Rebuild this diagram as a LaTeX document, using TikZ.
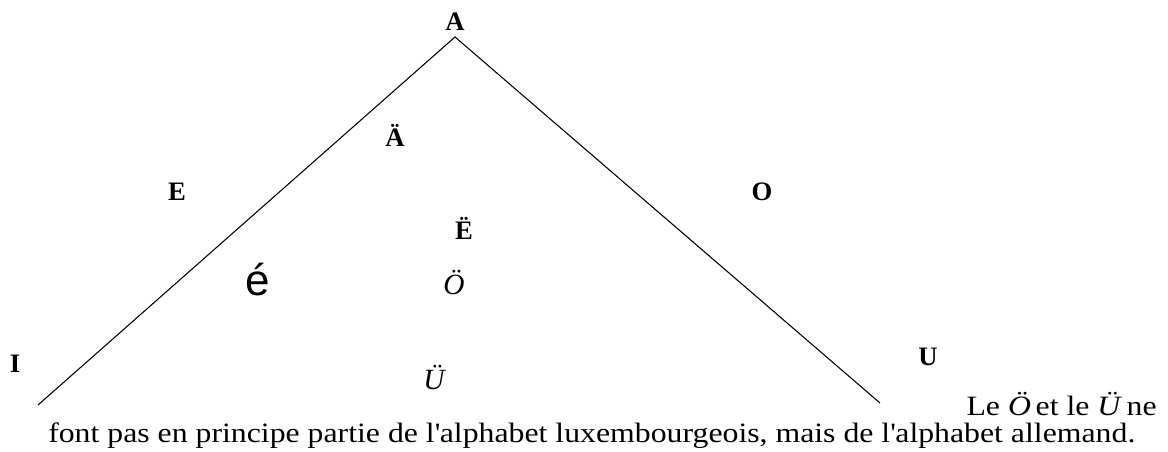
\documentclass[tikz,border=0pt]{standalone}
\usepackage{fontspec}
\setmainfont{Liberation Serif}
\newfontfamily\arialfont{Liberation Sans}
\newfontfamily\widefont[FakeStretch=1.135]{Liberation Serif}
\usetikzlibrary{positioning}
\tikzset{
  vowel/.style={font=\fontsize{20}{22}\selectfont\bfseries, inner sep=0pt},
  umlaut/.style={font=\fontsize{22}{24}\selectfont\itshape, inner sep=0pt},
  note/.style={font=\widefont\fontsize{21}{24}\selectfont, inner sep=0pt},
}
\begin{document}
\begin{tikzpicture}[x=0.75pt, y=-0.75pt]
  % --- frame ---
  \useasboundingbox (0,0) rectangle (1168,452);
  % --- triangle ---
  \coordinate (apex) at (455,37);
  \coordinate (leftend) at (38,405);
  \coordinate (rightend) at (880,403);
  \draw[line width=0.8pt] (leftend) -- (apex) -- (rightend);
  % --- corner vowels ---
  \node[vowel, anchor=base] (a) at (455,31) {A};
  \node[vowel, anchor=base] (i) at (15,373) {I};
  \node[vowel, anchor=base] (u) at (928,366) {U};
  % --- middle vowels ---
  \node[vowel, anchor=base] (e) at (177,201) {E};
  \node[vowel, anchor=base] (o) at (762,201) {O};
  \node[vowel, anchor=base] (ae) at (395,147) {Ä};
  \node[vowel, anchor=base] (ee) at (464,240) {Ë};
  \node[font=\fontsize{33}{35}\selectfont\arialfont, inner sep=0pt, anchor=base] (eacute) at (258,296) {é};
  % --- German only ---
  \node[umlaut, anchor=base] (oe) at (454,295) {Ö};
  \node[umlaut, anchor=base] (ue) at (434,389) {Ü};
  % --- note ---
  \node[note, anchor=base east] (note1) at (1157,416) {Le \textit{Ö}\,et le \textit{Ü}\,ne};
  \node[note, anchor=base west] (note2) at (48,442)
    {font pas en principe partie de l\textquotesingle alphabet luxembourgeois, mais de l\textquotesingle alphabet allemand.};
\end{tikzpicture}
\end{document}
